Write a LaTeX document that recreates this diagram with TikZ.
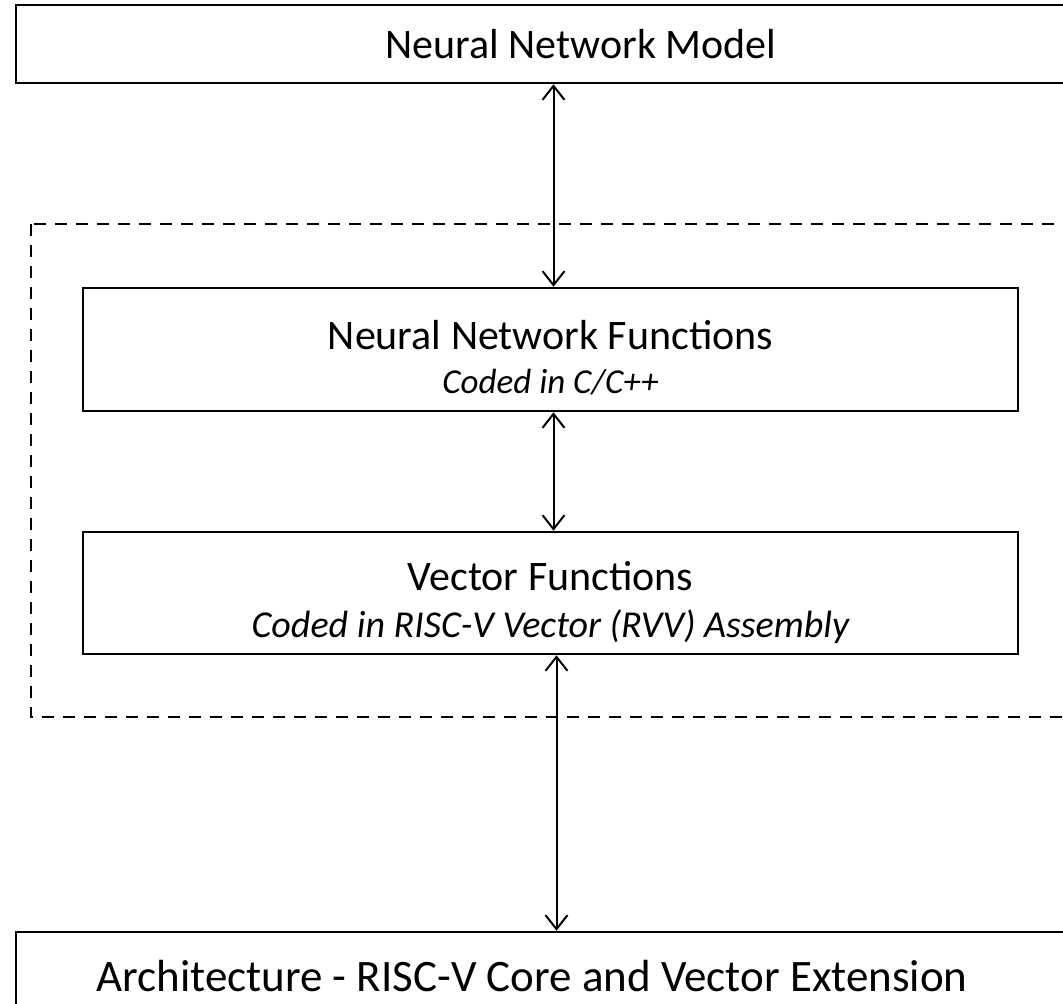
\documentclass[tikz,border=0pt]{standalone}
\usepackage{fontspec}
\setmainfont{Carlito}
\usetikzlibrary{arrows.meta}

\newcommand{\titlefont}{\fontsize{42}{48}\selectfont}
\newcommand{\subfont}{\fontsize{35}{40}\selectfont\itshape}

\tikzset{
  layerbox/.style={draw,line width=2.5pt,inner sep=0pt},
  layertext/.style={inner sep=0pt,align=center},
  linkarrow/.style={{Straight Barb[length=14pt,width=22pt,line width=2pt]}-{Straight Barb[length=14pt,width=22pt,line width=2pt]},line width=2pt}
}

\begin{document}
\begin{tikzpicture}[x=1pt,y=1pt]
\useasboundingbox (0,0) rectangle (1063,-1004);

% software layers
\draw[line width=2.5pt,dash pattern=on 12pt off 9pt] (31,-224) rectangle (1110,-717);

\node[layerbox,minimum width=1130pt,minimum height=78pt] (model) at (581,-44) {};
\node[layertext] (modeltext) at (model.center) {\titlefont Neural Network Model};

\node[layerbox,minimum width=935pt,minimum height=123pt] (nnfunc) at (550.5,-349.5) {};
\node[layertext] (nnfunctext) at ([yshift=-8pt]nnfunc.center)
  {\titlefont Neural Network Functions\\[18pt]\subfont Coded in C/C++};

\node[layerbox,minimum width=935pt,minimum height=122pt] (vecfunc) at (550.5,-593) {};
\node[layertext] (vecfunctext) at ([yshift=-10pt]vecfunc.center)
  {\titlefont Vector Functions\\[18pt]{\fontsize{38}{40}\selectfont\itshape Coded in RISC-V Vector (RVV) Assembly}};

\node[layerbox,minimum width=1100pt,minimum height=88pt] (arch) at (566,-976) {};
\node[layertext] (archtext) at (532,-976)
  {\fontsize{45}{50}\selectfont Architecture - RISC-V Core and Vector Extension};

% links between layers
\draw[linkarrow] ([xshift=3pt]nnfunc.north |- model.south) -- ([xshift=3pt]nnfunc.north);
\draw[linkarrow] ([xshift=3pt]nnfunc.south) -- ([xshift=3pt]vecfunc.north);
\draw[linkarrow] ([xshift=6pt]vecfunc.south) -- ([xshift=6pt]vecfunc.south |- arch.north);
\end{tikzpicture}
\end{document}
